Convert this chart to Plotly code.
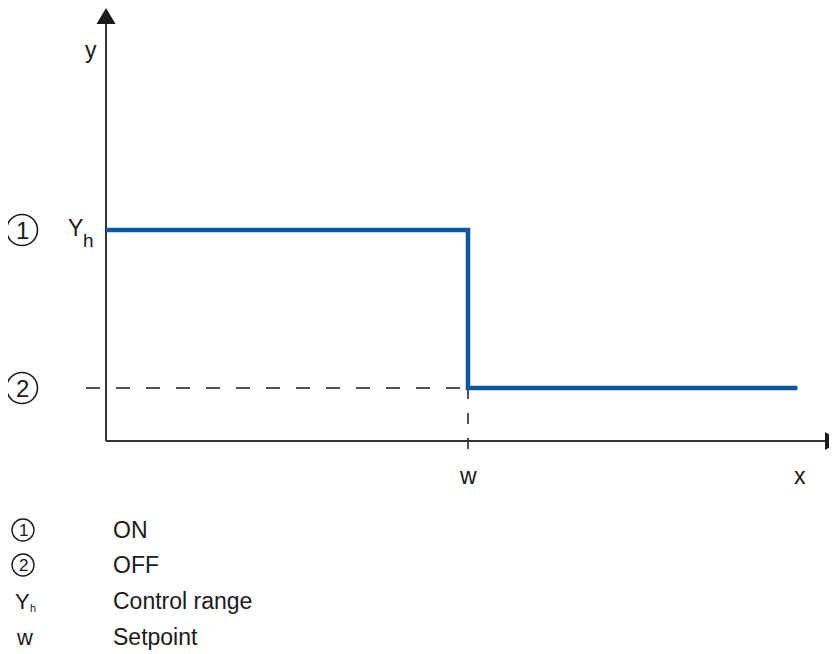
import plotly.graph_objects as go

# two-position controller: output y against input x
setpoint_w = 1.0          # switching point (w)
x_end = 1.91              # end of the drawn characteristic
y_on = 1.0                # Y_h, output ON
y_off = 0.0               # output OFF
x_axis_y = -0.335         # where the x axis crosses

x_step = [0, setpoint_w, setpoint_w, x_end]
y_step = [y_on, y_on, y_off, y_off]

legend_symbols = ["1", "2", "Yh", "w"]
legend_texts = ["ON", "OFF", "Control range", "Setpoint"]

W, H = 837, 654
PAGE = 8  # body margin of the page
x0_px, xpx_per_unit = 106, 362
y0_px, ypx_per_unit = 388, 158


def dx(px):
    return (px - x0_px) / xpx_per_unit


def dy(py):
    return (y0_px - py) / ypx_per_unit


def paper_x(px):
    return (px - PAGE) / W


def paper_y(py):
    return 1 - (py - PAGE) / H


font = "Liberation Sans, Arial, sans-serif"
ink = "#1a1a1a"
fs = 23

fig = go.Figure()

# dashed helper lines
fig.add_trace(go.Scatter(x=[dx(86), setpoint_w], y=[y_off, y_off], mode="lines",
                         line=dict(color=ink, width=1.5, dash="14px,16px"), hoverinfo="skip"))
fig.add_trace(go.Scatter(x=[setpoint_w, setpoint_w], y=[y_off, dy(458)], mode="lines",
                         line=dict(color=ink, width=1.5, dash="11px,14px"), hoverinfo="skip"))

# axes
fig.add_trace(go.Scatter(x=[0, 0], y=[x_axis_y, dy(18)], mode="lines",
                         line=dict(color="#333333", width=2), hoverinfo="skip"))
fig.add_trace(go.Scatter(x=[0, dx(828)], y=[x_axis_y, x_axis_y], mode="lines",
                         line=dict(color="#333333", width=2), hoverinfo="skip"))

# characteristic
fig.add_trace(go.Scatter(x=x_step, y=y_step, mode="lines",
                         line=dict(color="#0a57a4", width=4.5), hoverinfo="skip"))

# arrow heads
fig.add_shape(type="path", xref="x", yref="y", xsizemode="pixel", ysizemode="pixel",
              xanchor=0, yanchor=dy(8), path="M0,0 L-9.5,-16 L9.5,-16 Z",
              fillcolor=ink, line=dict(width=0))
fig.add_shape(type="path", xref="x", yref="y", xsizemode="pixel", ysizemode="pixel",
              xanchor=dx(841), yanchor=x_axis_y, path="M0,0 L-16,9 L-16,-9 Z",
              fillcolor=ink, line=dict(width=0))

# circled markers at the levels
for num, lvl in [("1", y_on), ("2", y_off)]:
    fig.add_shape(type="circle", xref="x", yref="y", xsizemode="pixel", ysizemode="pixel",
                  xanchor=dx(22), yanchor=lvl, x0=-15.5, x1=15.5, y0=-15.5, y1=15.5,
                  line=dict(color=ink, width=1.6))
    fig.add_annotation(x=dx(22), y=lvl, text=num, showarrow=False,
                       xanchor="center", yanchor="middle",
                       font=dict(family=font, size=24, color=ink))

# Y with a large dropped subscript h
fig.add_annotation(x=dx(66), y=y_on, text="Y", showarrow=False,
                   xanchor="left", yanchor="middle", yshift=2,
                   font=dict(family=font, size=fs, color=ink))
fig.add_annotation(x=dx(81), y=y_on, text="h", showarrow=False,
                   xanchor="left", yanchor="middle", yshift=-10,
                   font=dict(family=font, size=19, color=ink))

fig.add_annotation(x=dx(91), y=dy(50), text="y", showarrow=False,
                   xanchor="center", yanchor="middle",
                   font=dict(family=font, size=fs, color=ink))
fig.add_annotation(x=setpoint_w, y=dy(476), text="w", showarrow=False,
                   xanchor="center", yanchor="middle",
                   font=dict(family=font, size=fs, color=ink))
fig.add_annotation(x=dx(800), y=dy(476), text="x", showarrow=False,
                   xanchor="center", yanchor="middle",
                   font=dict(family=font, size=fs, color=ink))

# key below the chart
rows_px = [530, 565, 601, 637]
for sym, txt, py in zip(legend_symbols, legend_texts, rows_px):
    if sym in ("1", "2"):
        fig.add_shape(type="circle", xref="paper", yref="paper", xsizemode="pixel",
                      ysizemode="pixel", xanchor=paper_x(23), yanchor=paper_y(py),
                      x0=-11, x1=11, y0=-11, y1=11, line=dict(color=ink, width=1.4))
        fig.add_annotation(xref="paper", yref="paper", x=paper_x(23), y=paper_y(py), text=sym,
                           xanchor="center", yanchor="middle", showarrow=False,
                           font=dict(family=font, size=17, color=ink))
    elif sym == "Yh":
        fig.add_annotation(xref="paper", yref="paper", x=paper_x(13), y=paper_y(py), text="Y",
                           xanchor="left", yanchor="middle", showarrow=False,
                           font=dict(family=font, size=22, color=ink))
        fig.add_annotation(xref="paper", yref="paper", x=paper_x(28), y=paper_y(py + 7),
                           text="h", xanchor="left", yanchor="middle", showarrow=False,
                           font=dict(family=font, size=11, color=ink))
    else:
        fig.add_annotation(xref="paper", yref="paper", x=paper_x(14), y=paper_y(py), text=sym,
                           xanchor="left", yanchor="middle", showarrow=False,
                           font=dict(family=font, size=22, color=ink))
    fig.add_annotation(xref="paper", yref="paper", x=paper_x(111), y=paper_y(py), text=txt,
                       xanchor="left", yanchor="middle", showarrow=False,
                       font=dict(family=font, size=fs, color=ink))

fig.update_layout(width=W, height=H, margin=dict(l=0, r=0, t=0, b=0),
                  plot_bgcolor="white", paper_bgcolor="white", showlegend=False,
                  xaxis=dict(range=[dx(PAGE), dx(PAGE + W)], visible=False, fixedrange=True),
                  yaxis=dict(range=[dy(PAGE + H), dy(PAGE)], visible=False, fixedrange=True))

fig.write_html("out.html")
